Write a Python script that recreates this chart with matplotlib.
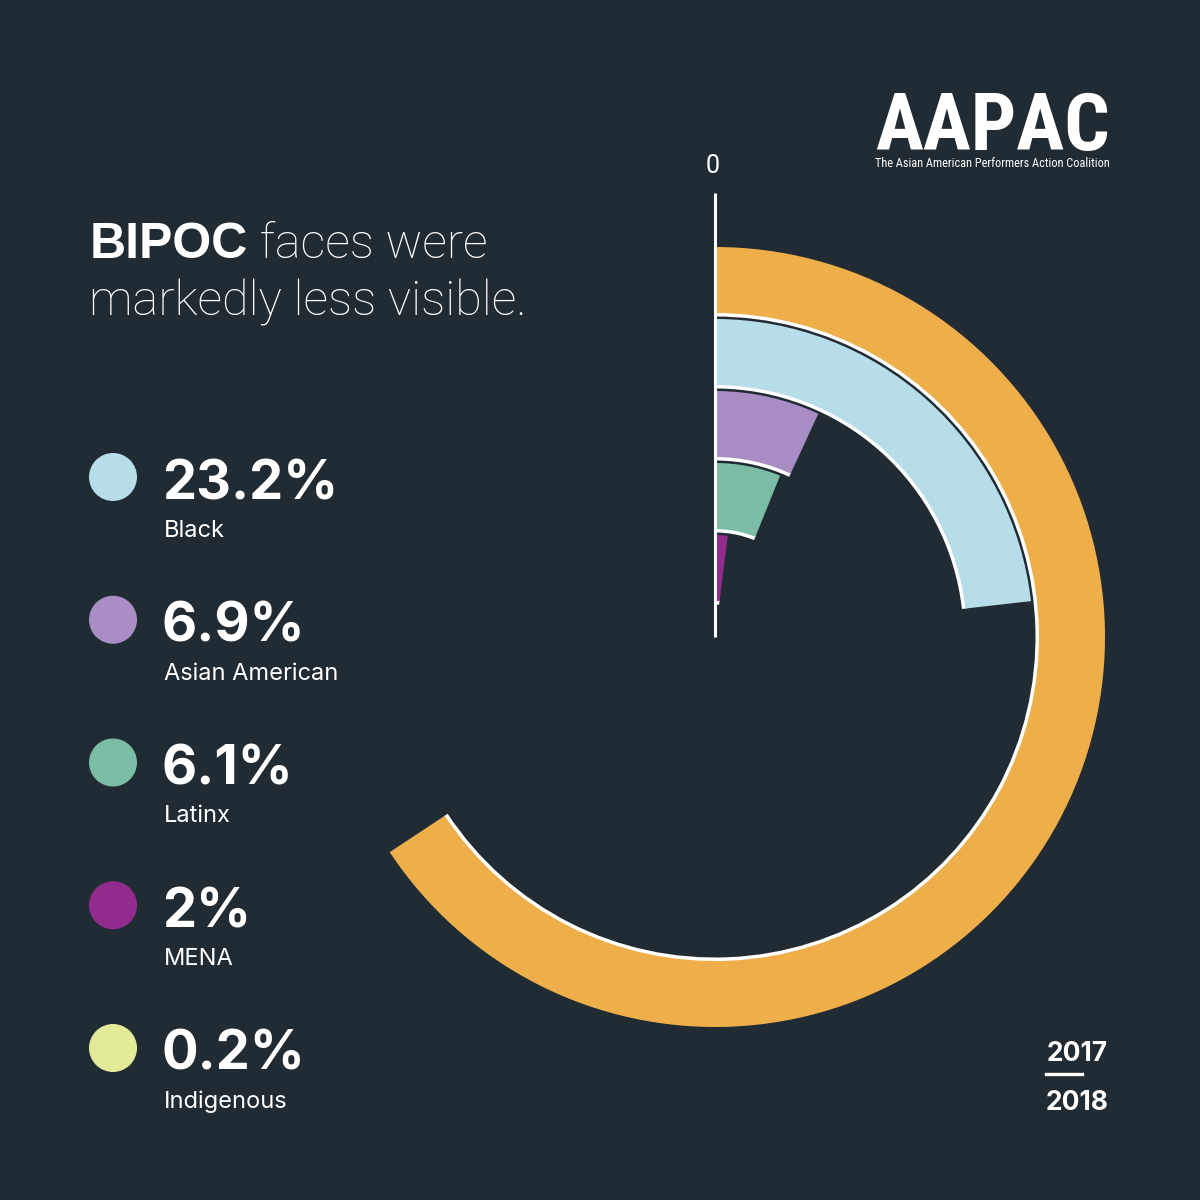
import numpy as np
import matplotlib
matplotlib.use("Agg")
import matplotlib.pyplot as plt
from matplotlib.patches import Circle
from matplotlib import font_manager as fm

# ---------------- data ----------------
ring_labels = ["White", "Black", "Asian American", "Latinx", "MENA", "Indigenous"]
ring_values = [65.7, 23.2, 6.9, 6.1, 2.0, 0.2]          # percent of the circle
ring_colors = ["#EEAE4A", "#B7DCEA", "#A98EC6", "#7BBDA4", "#912B8E", "#E3EB99"]

legend_values = ["23.2%", "6.9%", "6.1%", "2%", "0.2%"]
legend_labels = ["Black", "Asian American", "Latinx", "MENA", "Indigenous"]
legend_colors = ring_colors[1:]

title_bold = "BIPOC"
title_rest1 = " faces were"
title_line2 = "markedly less visible."
logo = "AAPAC"
logo_sub = "The Asian American Performers Action Coalition"
years = ["2017", "2018"]
axis_label = "0"

BG = "#212B33"
W = 1200


def available(family, **kw):
    try:
        fm.findfont(fm.FontProperties(family=family, **kw), fallback_to_default=False)
        return True
    except Exception:
        return False


condensed = None
for fam in ["Roboto Condensed", "Liberation Sans Narrow", "Open Sans Condensed",
            "Noto Sans Display", "DejaVu Sans Condensed"]:
    if available(fam, weight="bold"):
        condensed = fam
        break

fig = plt.figure(figsize=(12, 12), dpi=100, facecolor=BG)

# ---------------- radial bars ----------------
cx, cy = 715, 637          # centre in pixels (y from top)
Rmax = 470
ax = fig.add_axes([(cx - Rmax) / W, (W - cy - Rmax) / W, 2 * Rmax / W, 2 * Rmax / W],
                  projection="polar")
ax.set_theta_zero_location("N")
ax.set_theta_direction(-1)
ax.set_ylim(0, Rmax)
ax.patch.set_visible(False)
ax.grid(False)
ax.set_xticks([])
ax.set_yticks([])
ax.spines["polar"].set_visible(False)

band_top = [390, 318, 246, 174, 102, 30]
band_h = [66, 66, 66, 66, 66, 30]
for val, col, top, h in zip(ring_values, ring_colors, band_top, band_h):
    width = val / 100 * 2 * np.pi
    bottom = top - h
    if bottom > 10:
        ax.bar(0, 5, width=width, bottom=bottom - 3.5, align="edge", color="white",
               edgecolor="none", linewidth=0, zorder=1)
    ax.bar(0, h, width=width, bottom=bottom, align="edge", color=col,
           edgecolor="none", linewidth=0, zorder=2)

ax.plot([0, 0], [0, 444], color="white", lw=2.2, zorder=3, solid_capstyle="butt")

# ---------------- overlay for text ----------------
ov = fig.add_axes([0, 0, 1, 1])
ov.set_xlim(0, W)
ov.set_ylim(W, 0)
ov.axis("off")
ov.patch.set_visible(False)

ov.text(713, 173, axis_label, color="white", fontsize=18, family="Roboto",
        fontweight="normal", ha="center", va="baseline")

# title
t1 = ov.text(90, 258, title_bold, color="white", fontsize=36, family="Liberation Sans",
             fontweight="bold", va="baseline", ha="left")
fig.canvas.draw()
r = fig.canvas.get_renderer()
bb = t1.get_window_extent(r)
ov.text(bb.x1, 258, title_rest1, color="white", fontsize=35, family="Roboto",
        fontweight="light", va="baseline", ha="left")
ov.text(89, 316, title_line2, color="white", fontsize=35, family="Roboto",
        fontweight="light", va="baseline", ha="left")

# logo (fit to the reference width)
logo_fam = [condensed] if condensed else ["Liberation Sans"]
lt = ov.text(875, 150, logo, color="white", fontsize=58, family=logo_fam,
             fontweight="bold", va="baseline", ha="left")
w_l = lt.get_window_extent(r).width
lt.set_fontsize(58 * 235 / w_l)
st = ov.text(875, 167, logo_sub, color="white", fontsize=8.2, family=logo_fam,
             va="baseline", ha="left")
w_s = st.get_window_extent(r).width
st.set_fontsize(8.2 * 234 / w_s)

# legend
y0, dy = 477, 142.75
for i, (v, lab, col) in enumerate(zip(legend_values, legend_labels, legend_colors)):
    y = y0 + i * dy
    ov.add_patch(Circle((113, y), 24, facecolor=col, edgecolor="none"))
    ov.text(162, y + 22, v, color="white", fontsize=39, family="Inter",
            fontweight="bold", va="baseline", ha="left")
    ov.text(164, y + 60, lab, color="white", fontsize=17, family="Inter",
            va="baseline", ha="left")

# years
ov.text(1077, 1061, years[0], color="white", fontsize=19, family="Inter",
        fontweight="bold", va="baseline", ha="center")
ov.plot([1046, 1082], [1074, 1074], color="white", lw=2.4)
ov.text(1077, 1110, years[1], color="white", fontsize=19, family="Inter",
        fontweight="bold", va="baseline", ha="center")

fig.savefig("out.png", dpi=100, facecolor=BG)
